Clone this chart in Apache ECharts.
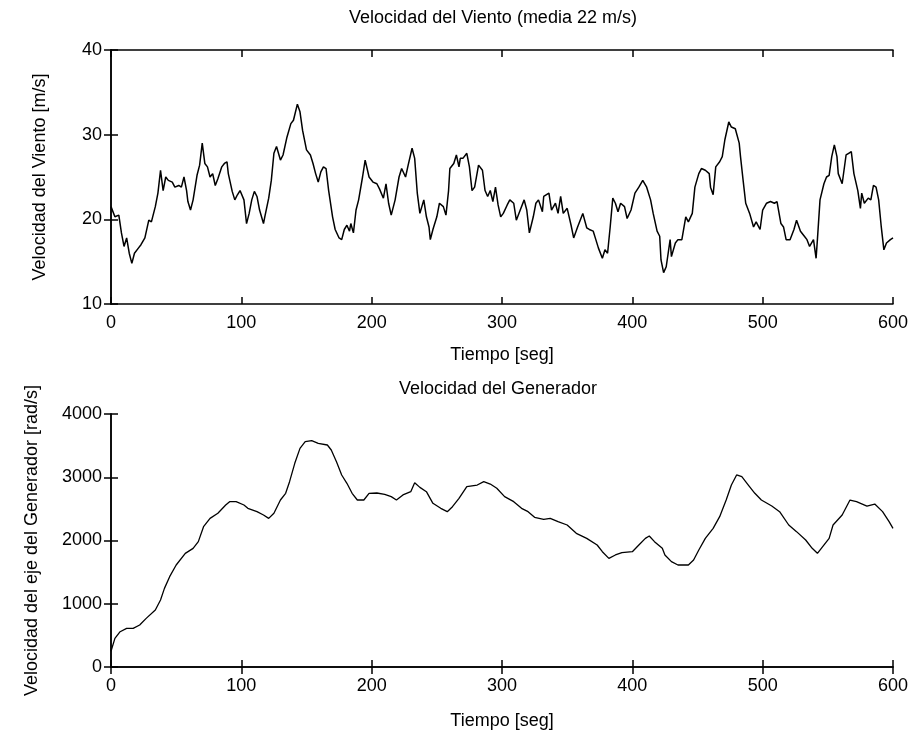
<!DOCTYPE html>
<html>
<head>
<meta charset="utf-8">
<script src="https://cdn.jsdelivr.net/npm/echarts@6/dist/echarts.min.js"></script>
<style>
  html, body { margin: 0; padding: 0; background: #fff; }
  #chart { width: 915px; height: 749px; }
</style>
</head>
<body>
<div id="chart"></div>
<script>
// velocidad del viento [m/s]
var windT = [0, 3, 6, 8, 10, 12, 14, 16, 18, 21, 23, 26, 29, 31, 34, 36, 38, 40, 42, 44, 47, 49, 52, 54, 56, 58, 59, 61, 63, 66, 68, 70, 72, 74, 76, 78, 80, 82, 85, 87, 89, 90, 93, 95, 97, 99, 102, 104, 106, 108, 110, 112, 114, 117, 118, 121, 123, 125, 127, 130, 132, 135, 138, 140, 143, 145, 147, 150, 153, 155, 157, 159, 161, 163, 165, 167, 170, 172, 175, 177, 179, 181, 183, 184, 186, 188, 190, 193, 195, 198, 201, 204, 206, 209, 211, 213, 215, 218, 221, 223, 226, 228, 231, 233, 235, 237, 240, 242, 244, 245, 247, 250, 252, 255, 257, 259, 260, 263, 265, 267, 268, 270, 273, 275, 277, 279, 282, 285, 287, 289, 291, 293, 295, 297, 299, 301, 304, 306, 309, 311, 314, 317, 319, 321, 324, 326, 328, 331, 332, 336, 338, 341, 343, 345, 347, 350, 353, 355, 358, 360, 362, 365, 367, 370, 372, 374, 377, 379, 381, 383, 385, 387, 389, 391, 394, 396, 399, 402, 405, 408, 411, 414, 416, 419, 421, 422, 424, 426, 429, 430, 433, 435, 438, 441, 443, 446, 448, 451, 453, 456, 459, 460, 462, 464, 467, 469, 471, 474, 476, 479, 482, 483, 485, 487, 490, 493, 495, 498, 500, 503, 506, 509, 511, 514, 516, 518, 521, 524, 526, 529, 532, 534, 536, 539, 541, 542, 544, 547, 549, 551, 553, 555, 557, 558, 561, 564, 566, 568, 570, 573, 575, 576, 578, 581, 583, 585, 587, 589, 591, 593, 595, 598, 600];
var windV = [21.5, 20.3, 20.5, 18.4, 16.8, 17.8, 16.0, 14.8, 16.0, 16.6, 17.0, 17.8, 19.9, 19.7, 21.5, 23.1, 25.8, 23.4, 25.0, 24.6, 24.4, 23.8, 24.0, 23.8, 25.0, 23.4, 22.1, 21.1, 22.3, 25.2, 26.4, 29.0, 26.6, 26.2, 25.0, 25.4, 24.0, 24.8, 26.2, 26.6, 26.8, 25.4, 23.3, 22.3, 22.9, 23.4, 22.3, 19.5, 20.7, 22.3, 23.3, 22.7, 21.1, 19.5, 20.3, 22.5, 24.6, 27.8, 28.6, 27.0, 27.6, 29.7, 31.3, 31.7, 33.6, 32.7, 30.5, 28.2, 27.6, 26.6, 25.4, 24.4, 25.6, 26.2, 26.0, 23.4, 20.3, 18.8, 17.8, 17.6, 18.8, 19.3, 18.6, 19.5, 18.4, 21.1, 22.3, 25.0, 27.0, 25.0, 24.4, 24.2, 23.6, 22.5, 24.2, 21.9, 20.5, 22.3, 25.0, 26.0, 25.0, 26.4, 28.4, 27.2, 23.1, 20.7, 22.3, 20.3, 19.1, 17.6, 18.8, 20.3, 21.9, 21.5, 20.5, 23.4, 26.0, 26.6, 27.6, 26.2, 27.2, 27.2, 27.8, 26.2, 23.4, 23.8, 26.4, 25.8, 23.4, 22.7, 23.4, 22.1, 23.8, 21.7, 20.3, 20.7, 21.7, 22.3, 21.9, 19.9, 21.1, 22.3, 21.1, 18.4, 20.3, 21.9, 22.3, 20.9, 22.7, 23.1, 21.1, 21.9, 20.7, 22.7, 20.7, 21.3, 19.3, 17.8, 19.1, 19.9, 20.7, 19.0, 18.8, 18.6, 17.6, 16.6, 15.4, 16.4, 16.0, 19.1, 22.5, 21.9, 20.9, 21.9, 21.5, 20.1, 21.1, 23.1, 23.8, 24.6, 23.8, 22.3, 20.7, 18.6, 18.0, 15.2, 13.7, 14.4, 17.6, 15.6, 17.2, 17.6, 17.6, 20.3, 19.7, 20.7, 23.8, 25.4, 26.0, 25.8, 25.4, 23.8, 22.9, 26.2, 26.8, 27.4, 29.4, 31.5, 30.9, 30.7, 29.0, 27.4, 24.6, 21.9, 20.7, 19.1, 19.7, 18.8, 21.1, 21.9, 22.1, 21.9, 22.1, 19.5, 19.1, 17.6, 17.6, 18.8, 19.9, 18.6, 18.0, 17.6, 16.8, 17.6, 15.4, 17.6, 22.3, 24.2, 25.0, 25.2, 27.4, 28.8, 27.4, 25.4, 24.2, 27.6, 27.8, 28.0, 25.4, 23.4, 21.3, 23.1, 21.9, 22.5, 22.3, 24.0, 23.8, 22.3, 19.1, 16.4, 17.2, 17.6, 17.8, 16.8];

// velocidad del generador [rad/s]
var genT = [0, 3, 7, 12, 17, 22, 27, 34, 38, 41, 45, 50, 57, 63, 67, 71, 76, 82, 88, 91, 96, 102, 105, 112, 117, 121, 125, 130, 134, 137, 141, 145, 149, 154, 159, 166, 169, 173, 177, 181, 185, 189, 194, 198, 204, 210, 215, 219, 224, 230, 233, 237, 242, 247, 253, 258, 262, 267, 273, 281, 286, 291, 296, 302, 309, 315, 320, 325, 332, 337, 343, 350, 357, 365, 373, 377, 382, 387, 392, 400, 405, 410, 413, 417, 423, 425, 430, 435, 443, 447, 451, 456, 462, 467, 472, 476, 480, 484, 489, 494, 499, 507, 513, 520, 526, 533, 538, 542, 545, 551, 554, 561, 567, 572, 580, 586, 592, 597, 600];
var genV = [250, 453, 558, 611, 611, 664, 769, 901, 1059, 1243, 1428, 1613, 1797, 1876, 1982, 2218, 2350, 2430, 2561, 2614, 2614, 2561, 2509, 2456, 2403, 2350, 2430, 2640, 2746, 2930, 3220, 3457, 3562, 3578, 3536, 3510, 3431, 3246, 3036, 2904, 2746, 2640, 2640, 2746, 2751, 2730, 2693, 2640, 2720, 2772, 2914, 2840, 2772, 2588, 2509, 2456, 2535, 2667, 2851, 2877, 2930, 2893, 2825, 2693, 2614, 2509, 2456, 2366, 2335, 2350, 2298, 2245, 2113, 2034, 1929, 1823, 1718, 1771, 1808, 1823, 1929, 2034, 2071, 1982, 1876, 1771, 1666, 1613, 1613, 1692, 1850, 2034, 2192, 2377, 2640, 2877, 3036, 3009, 2877, 2746, 2640, 2545, 2456, 2245, 2140, 2008, 1876, 1797, 1876, 2034, 2245, 2403, 2640, 2614, 2545, 2577, 2456, 2298, 2192];

var xTicks = [0, 100, 200, 300, 400, 500, 600];
var windTicks = [10, 20, 30, 40];
var genTicks = [0, 1000, 2000, 3000, 4000];

var FONT = '"Liberation Sans", Arial, sans-serif';
var FS = 18;

function pairs(xs, ys) {
  return xs.map(function (x, i) { return [x, ys[i]]; });
}

// sin separador de miles, como en el original
function plain(v) {
  return String(v);
}

function mainX(grid, gap) {
  return {
    type: 'value', gridIndex: grid, position: 'bottom',
    min: xTicks[0], max: xTicks[xTicks.length - 1], interval: 100,
    name: 'Tiempo [seg]', nameLocation: 'middle', nameGap: gap,
    nameTextStyle: { color: '#000', fontFamily: FONT, fontSize: FS },
    axisLine: { show: true, lineStyle: { color: '#000', width: 1.5 } },
    axisTick: { show: true, inside: true, length: 7, lineStyle: { color: '#000', width: 1.5 } },
    axisLabel: { color: '#000', fontFamily: FONT, fontSize: FS, margin: 10, formatter: plain },
    splitLine: { show: false }
  };
}

function mirrorX(grid) {
  return {
    type: 'value', gridIndex: grid, position: 'top',
    min: xTicks[0], max: xTicks[xTicks.length - 1], interval: 100,
    axisLine: { show: true, lineStyle: { color: '#000', width: 1.5 } },
    axisTick: { show: true, inside: true, length: 7, lineStyle: { color: '#000', width: 1.5 } },
    axisLabel: { show: false },
    splitLine: { show: false }
  };
}

function mainY(grid, ticks, name, gap) {
  return {
    type: 'value', gridIndex: grid, position: 'left',
    min: ticks[0], max: ticks[ticks.length - 1], interval: ticks[1] - ticks[0],
    name: name, nameLocation: 'middle', nameGap: gap, nameRotate: 90,
    nameTextStyle: { color: '#000', fontFamily: FONT, fontSize: FS },
    axisLine: { show: true, lineStyle: { color: '#000', width: 1.5 } },
    axisTick: { show: true, inside: true, length: 7, lineStyle: { color: '#000', width: 1.5 } },
    axisLabel: { color: '#000', fontFamily: FONT, fontSize: FS, margin: 9, formatter: plain },
    splitLine: { show: false }
  };
}

function mirrorY(grid, ticks) {
  return {
    type: 'value', gridIndex: grid, position: 'right',
    min: ticks[0], max: ticks[ticks.length - 1], interval: ticks[1] - ticks[0],
    axisLine: { show: true, lineStyle: { color: '#000', width: 1.5 } },
    axisTick: { show: true, inside: true, length: 7, lineStyle: { color: '#000', width: 1.5 } },
    axisLabel: { show: false },
    splitLine: { show: false }
  };
}

var chart = echarts.init(document.getElementById('chart'), null, { renderer: 'canvas' });

chart.setOption({
  animation: false,
  backgroundColor: '#fff',
  title: [
    {
      text: 'Velocidad del Viento (media 22 m/s)',
      left: 488, top: 4, textAlign: 'center',
      textStyle: { color: '#000', fontFamily: FONT, fontSize: FS, fontWeight: 'normal' }
    },
    {
      text: 'Velocidad del Generador',
      left: 493, top: 375, textAlign: 'center',
      textStyle: { color: '#000', fontFamily: FONT, fontSize: FS, fontWeight: 'normal' }
    }
  ],
  grid: [
    { left: 111, right: 22, top: 50, height: 254 },
    { left: 111, right: 22, top: 414, height: 253 }
  ],
  xAxis: [mainX(0, 42), mirrorX(0), mainX(1, 45), mirrorX(1)],
  yAxis: [
    mainY(0, windTicks, 'Velocidad del Viento [m/s]', 62),
    mirrorY(0, windTicks),
    mainY(1, genTicks, 'Velocidad del eje del Generador [rad/s]', 70),
    mirrorY(1, genTicks)
  ],
  series: [
    {
      type: 'line', xAxisIndex: 0, yAxisIndex: 0,
      data: pairs(windT, windV),
      showSymbol: false, silent: true,
      lineStyle: { color: '#000', width: 1.5 }
    },
    {
      type: 'line', xAxisIndex: 2, yAxisIndex: 2,
      data: pairs(genT, genV),
      showSymbol: false, silent: true,
      lineStyle: { color: '#000', width: 1.3 }
    }
  ]
});
</script>
</body>
</html>
